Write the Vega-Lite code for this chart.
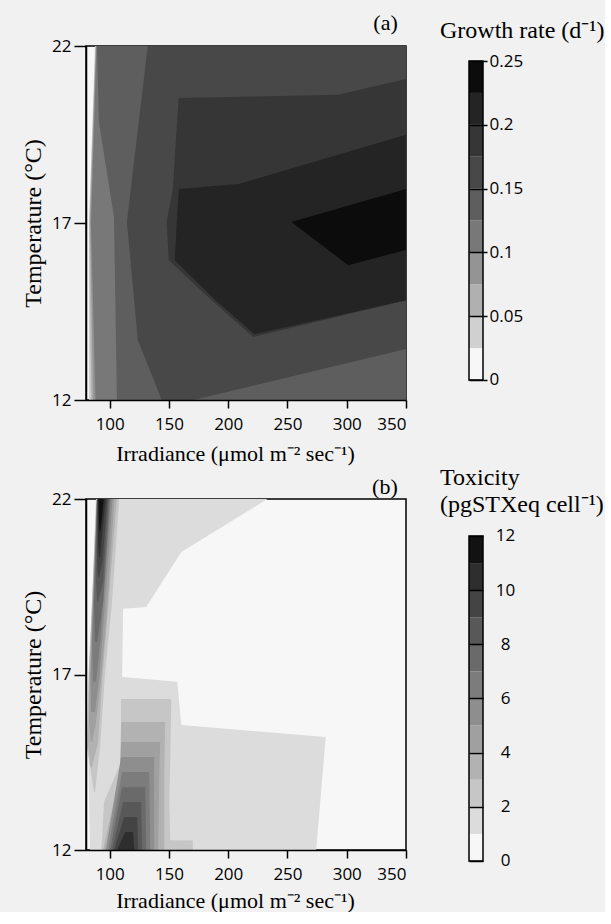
{
  "$schema": "https://vega.github.io/schema/vega-lite/v6.json",
  "background": "#f1f1f1",
  "padding": {"left": 20, "top": 11, "right": 0, "bottom": 0},
  "config": {
    "view": {"stroke": null},
    "axis": {"labelColor": "black", "tickColor": "black", "domainColor": "black", "titleColor": "black", "grid": false},
    "title": {"fontWeight": "normal", "color": "black", "font": "Liberation Serif"}
  },
  "datasets": {
    "contourA": [
      {"band": 1, "piece": "m", "T": 22, "xl": 87.6, "xr": 350},
      {"band": 1, "piece": "m", "T": 17, "xl": 82.5, "xr": 350},
      {"band": 1, "piece": "m", "T": 12, "xl": 82.5, "xr": 350},
      {"band": 2, "piece": "m", "T": 22, "xl": 88.0, "xr": 350},
      {"band": 2, "piece": "m", "T": 17, "xl": 82.9, "xr": 350},
      {"band": 2, "piece": "m", "T": 14.8, "xl": 83.4, "xr": 350},
      {"band": 2, "piece": "m", "T": 12, "xl": 84.2, "xr": 350},
      {"band": 3, "piece": "m", "T": 22, "xl": 88.4, "xr": 350},
      {"band": 3, "piece": "m", "T": 17, "xl": 83.4, "xr": 350},
      {"band": 3, "piece": "m", "T": 14.8, "xl": 84.6, "xr": 350},
      {"band": 3, "piece": "m", "T": 12, "xl": 85.9, "xr": 350},
      {"band": 4, "piece": "m", "T": 22, "xl": 88.8, "xr": 350},
      {"band": 4, "piece": "m", "T": 17, "xl": 84.2, "xr": 350},
      {"band": 4, "piece": "m", "T": 14.8, "xl": 85.9, "xr": 350},
      {"band": 4, "piece": "m", "T": 12, "xl": 88.0, "xr": 350},
      {"band": 5, "piece": "m", "T": 22, "xl": 89.3, "xr": 350},
      {"band": 5, "piece": "m", "T": 19.85, "xl": 90.9, "xr": 350},
      {"band": 5, "piece": "m", "T": 17.17, "xl": 103.6, "xr": 350},
      {"band": 5, "piece": "m", "T": 12, "xl": 106.1, "xr": 350},
      {"band": 6, "piece": "m", "T": 22, "xl": 132.1, "xr": 350},
      {"band": 6, "piece": "m", "T": 17.03, "xl": 114.5, "xr": 350},
      {"band": 6, "piece": "m", "T": 13.69, "xl": 123.7, "xr": 350},
      {"band": 6, "piece": "m", "T": 13.44, "xl": 126.8, "xr": 350},
      {"band": 6, "piece": "m", "T": 12, "xl": 143.9, "xr": 170.8},
      {"band": 7, "piece": "m", "T": 21.07, "xl": 350, "xr": 350},
      {"band": 7, "piece": "m", "T": 20.62, "xl": 292.8, "xr": 350},
      {"band": 7, "piece": "m", "T": 20.53, "xl": 158.2, "xr": 350},
      {"band": 7, "piece": "m", "T": 17.96, "xl": 153.2, "xr": 350},
      {"band": 7, "piece": "m", "T": 17.03, "xl": 148.1, "xr": 350},
      {"band": 7, "piece": "m", "T": 15.95, "xl": 149.8, "xr": 350},
      {"band": 7, "piece": "m", "T": 14.82, "xl": 186.0, "xr": 350},
      {"band": 7, "piece": "m", "T": 13.78, "xl": 221.3, "xr": 221.3},
      {"band": 8, "piece": "m", "T": 19.49, "xl": 350, "xr": 350},
      {"band": 8, "piece": "m", "T": 18.10, "xl": 208.7, "xr": 350},
      {"band": 8, "piece": "m", "T": 17.96, "xl": 158.2, "xr": 350},
      {"band": 8, "piece": "m", "T": 15.95, "xl": 154.9, "xr": 350},
      {"band": 8, "piece": "m", "T": 14.82, "xl": 189.3, "xr": 350},
      {"band": 8, "piece": "m", "T": 13.86, "xl": 222.1, "xr": 222.1},
      {"band": 9, "piece": "m", "T": 17.96, "xl": 350, "xr": 350},
      {"band": 9, "piece": "m", "T": 17.03, "xl": 253.3, "xr": 350},
      {"band": 9, "piece": "m", "T": 16.24, "xl": 284.4, "xr": 350},
      {"band": 9, "piece": "m", "T": 15.81, "xl": 301.2, "xr": 301.2}
    ],
    "contourB": [
      {"band": 1, "piece": "m", "T": 22, "xl": 89.31, "xr": 233.2},
      {"band": 1, "piece": "m", "T": 20.49, "xl": 87.62, "xr": 160.41},
      {"band": 1, "piece": "m", "T": 18.92, "xl": 85.92, "xr": 130.78},
      {"band": 1, "piece": "m", "T": 18.87, "xl": 85.92, "xr": 111.32},
      {"band": 1, "piece": "m", "T": 16.93, "xl": 82.54, "xr": 110.47},
      {"band": 1, "piece": "m", "T": 16.79, "xl": 82.54, "xr": 157.02},
      {"band": 1, "piece": "m", "T": 15.56, "xl": 81.69, "xr": 160.41},
      {"band": 1, "piece": "m", "T": 15.22, "xl": 81.69, "xr": 282.28},
      {"band": 1, "piece": "m", "T": 12, "xl": 83.39, "xr": 274.24},
      {"band": 2, "piece": "s", "T": 22, "xl": 88.46, "xr": 108.0},
      {"band": 2, "piece": "s", "T": 19.07, "xl": 85.08, "xr": 102.0},
      {"band": 2, "piece": "s", "T": 16.99, "xl": 82.12, "xr": 96.0},
      {"band": 2, "piece": "s", "T": 14.93, "xl": 80.85, "xr": 91.85},
      {"band": 2, "piece": "s", "T": 13.65, "xl": 86.77, "xr": 87.62},
      {"band": 2, "piece": "w", "T": 16.3, "xl": 109.62, "xr": 151.94},
      {"band": 2, "piece": "w", "T": 14.51, "xl": 109.62, "xr": 151.1},
      {"band": 2, "piece": "w", "T": 13.37, "xl": 95.23, "xr": 150.25},
      {"band": 2, "piece": "w", "T": 12.28, "xl": 93.54, "xr": 151.1},
      {"band": 2, "piece": "w", "T": 12.27, "xl": 93.54, "xr": 170.14},
      {"band": 2, "piece": "w", "T": 12, "xl": 92.7, "xr": 170.14},
      {"band": 3, "piece": "s", "T": 22, "xl": 88.89, "xr": 106.0},
      {"band": 3, "piece": "s", "T": 16.99, "xl": 82.54, "xr": 94.0},
      {"band": 3, "piece": "s", "T": 15.08, "xl": 81.69, "xr": 90.16},
      {"band": 3, "piece": "s", "T": 14.36, "xl": 83.81, "xr": 85.08},
      {"band": 3, "piece": "w", "T": 15.65, "xl": 109.62, "xr": 146.86},
      {"band": 3, "piece": "w", "T": 14.22, "xl": 108.78, "xr": 146.02},
      {"band": 3, "piece": "w", "T": 12, "xl": 94.39, "xr": 146.02},
      {"band": 4, "piece": "s", "T": 22, "xl": 89.31, "xr": 104.0},
      {"band": 4, "piece": "s", "T": 18.5, "xl": 85.08, "xr": 97.0},
      {"band": 4, "piece": "s", "T": 16.99, "xl": 83.39, "xr": 93.0},
      {"band": 4, "piece": "s", "T": 15.65, "xl": 82.54, "xr": 88.46},
      {"band": 4, "piece": "s", "T": 15.08, "xl": 84.23, "xr": 85.08},
      {"band": 4, "piece": "w", "T": 15.08, "xl": 109.62, "xr": 142.63},
      {"band": 4, "piece": "w", "T": 14.08, "xl": 108.78, "xr": 141.79},
      {"band": 4, "piece": "w", "T": 12, "xl": 96.08, "xr": 140.94},
      {"band": 5, "piece": "s", "T": 22, "xl": 89.31, "xr": 102.5},
      {"band": 5, "piece": "s", "T": 16.99, "xl": 83.81, "xr": 91.5},
      {"band": 5, "piece": "s", "T": 15.93, "xl": 84.23, "xr": 87.62},
      {"band": 5, "piece": "w", "T": 14.65, "xl": 109.62, "xr": 137.55},
      {"band": 5, "piece": "w", "T": 12, "xl": 96.93, "xr": 137.55},
      {"band": 6, "piece": "s", "T": 22, "xl": 89.31, "xr": 101.0},
      {"band": 6, "piece": "s", "T": 17.93, "xl": 85.08, "xr": 92.0},
      {"band": 6, "piece": "s", "T": 16.79, "xl": 85.92, "xr": 88.46},
      {"band": 6, "piece": "w", "T": 14.22, "xl": 110.47, "xr": 133.32},
      {"band": 6, "piece": "w", "T": 12, "xl": 98.62, "xr": 134.17},
      {"band": 7, "piece": "s", "T": 22, "xl": 89.31, "xr": 100.0},
      {"band": 7, "piece": "s", "T": 19.07, "xl": 86.77, "xr": 94.5},
      {"band": 7, "piece": "s", "T": 17.93, "xl": 87.62, "xr": 89.31},
      {"band": 7, "piece": "w", "T": 13.79, "xl": 110.47, "xr": 129.94},
      {"band": 7, "piece": "w", "T": 12, "xl": 100.31, "xr": 130.78},
      {"band": 8, "piece": "s", "T": 22, "xl": 89.31, "xr": 99.0},
      {"band": 8, "piece": "s", "T": 19.64, "xl": 88.46, "xr": 94.5},
      {"band": 8, "piece": "s", "T": 19.07, "xl": 89.31, "xr": 90.16},
      {"band": 8, "piece": "w", "T": 13.37, "xl": 111.32, "xr": 126.55},
      {"band": 8, "piece": "w", "T": 12, "xl": 102.0, "xr": 127.4},
      {"band": 9, "piece": "s", "T": 22, "xl": 89.73, "xr": 98.0},
      {"band": 9, "piece": "s", "T": 20.21, "xl": 89.31, "xr": 94.0},
      {"band": 9, "piece": "s", "T": 19.78, "xl": 90.16, "xr": 91.0},
      {"band": 9, "piece": "w", "T": 12.94, "xl": 112.16, "xr": 123.17},
      {"band": 9, "piece": "w", "T": 12, "xl": 103.7, "xr": 124.01},
      {"band": 10, "piece": "s", "T": 22, "xl": 90.16, "xr": 96.5},
      {"band": 10, "piece": "s", "T": 20.77, "xl": 90.16, "xr": 93.0},
      {"band": 10, "piece": "s", "T": 20.35, "xl": 91.0, "xr": 91.85},
      {"band": 10, "piece": "w", "T": 12.51, "xl": 113.01, "xr": 119.78},
      {"band": 10, "piece": "w", "T": 12, "xl": 106.24, "xr": 120.63},
      {"band": 11, "piece": "s", "T": 22, "xl": 90.58, "xr": 95.0},
      {"band": 11, "piece": "s", "T": 21.34, "xl": 91.0, "xr": 93.0},
      {"band": 11, "piece": "s", "T": 21.06, "xl": 91.43, "xr": 91.85}
    ],
    "cbA": [
      {"band": 0, "lo": 0, "hi": 0.025},
      {"band": 1, "lo": 0.025, "hi": 0.05},
      {"band": 2, "lo": 0.05, "hi": 0.075},
      {"band": 3, "lo": 0.075, "hi": 0.1},
      {"band": 4, "lo": 0.1, "hi": 0.125},
      {"band": 5, "lo": 0.125, "hi": 0.15},
      {"band": 6, "lo": 0.15, "hi": 0.175},
      {"band": 7, "lo": 0.175, "hi": 0.2},
      {"band": 8, "lo": 0.2, "hi": 0.225},
      {"band": 9, "lo": 0.225, "hi": 0.25}
    ],
    "cbB": [
      {"band": 0, "lo": 0, "hi": 1},
      {"band": 1, "lo": 1, "hi": 2},
      {"band": 2, "lo": 2, "hi": 3},
      {"band": 3, "lo": 3, "hi": 4},
      {"band": 4, "lo": 4, "hi": 5},
      {"band": 5, "lo": 5, "hi": 6},
      {"band": 6, "lo": 6, "hi": 7},
      {"band": 7, "lo": 7, "hi": 8},
      {"band": 8, "lo": 8, "hi": 9},
      {"band": 9, "lo": 9, "hi": 10},
      {"band": 10, "lo": 10, "hi": 11},
      {"band": 11, "lo": 11, "hi": 12}
    ]
  },
  "columns": 2,
  "spacing": {"row": 99, "column": 63},
  "bounds": "flush",
  "resolve": {"scale": {"x": "independent", "y": "independent", "color": "independent"}},
  "concat": [
    {
      "width": 320,
      "height": 354,
      "view": {"fill": "#f7f7f7", "stroke": "black", "strokeWidth": 1.5},
      "title": {"text": "(a)", "anchor": "end", "fontSize": 22, "dx": -9, "offset": -15, "baseline": "alphabetic"},
      "data": {"name": "contourA"},
      "encoding": {
        "y": {"field": "T", "type": "quantitative", "scale": {"domain": [12, 22], "nice": false, "zero": false},
          "axis": {"values": [12, 17, 22], "tickSize": 12, "tickWidth": 1.5, "labelPadding": 3, "labelFont": "Open Sans", "labelFontSize": 17, "domainWidth": 1.5, "title": "Temperature (°C)", "titleFont": "Liberation Serif", "titleFontSize": 24, "titleFontWeight": "normal", "titlePadding": 6, "zindex": 1}},
        "x": {"field": "xl", "type": "quantitative", "stack": null, "scale": {"domain": [80, 350], "nice": false, "zero": false},
          "axis": {"values": [100, 150, 200, 250, 300, 350], "tickSize": 8, "tickWidth": 1.5, "labelPadding": 8, "labelFont": "Open Sans", "labelFontSize": 17, "domainWidth": 1.5, "title": "Irradiance (μmol m⁻² sec⁻¹)", "titleFont": "Liberation Serif", "titleFontSize": 22, "titleFontWeight": "normal", "titlePadding": 11, "titleX": 149, "zindex": 1}},
        "x2": {"field": "xr"},
        "detail": {"field": "piece"},
        "color": {"field": "band", "type": "ordinal", "legend": null,
          "scale": {"domain": [0, 1, 2, 3, 4, 5, 6, 7, 8, 9], "range": ["#f7f7f7", "#d0d0d0", "#b0b0b0", "#949494", "#787878", "#5e5e5e", "#484848", "#363636", "#242424", "#0c0c0c"]}}
      },
      "layer": [
        {"transform": [{"filter": "datum.band == 1"}], "mark": {"type": "area", "orient": "horizontal"}},
        {"transform": [{"filter": "datum.band == 2"}], "mark": {"type": "area", "orient": "horizontal"}},
        {"transform": [{"filter": "datum.band == 3"}], "mark": {"type": "area", "orient": "horizontal"}},
        {"transform": [{"filter": "datum.band == 4"}], "mark": {"type": "area", "orient": "horizontal"}},
        {"transform": [{"filter": "datum.band == 5"}], "mark": {"type": "area", "orient": "horizontal"}},
        {"transform": [{"filter": "datum.band == 6"}], "mark": {"type": "area", "orient": "horizontal"}},
        {"transform": [{"filter": "datum.band == 7"}], "mark": {"type": "area", "orient": "horizontal"}},
        {"transform": [{"filter": "datum.band == 8"}], "mark": {"type": "area", "orient": "horizontal"}},
        {"transform": [{"filter": "datum.band == 9"}], "mark": {"type": "area", "orient": "horizontal"}}
      ]
    },
    {
      "width": 14,
      "height": 354,
      "view": {"stroke": null},
      "title": {"text": "Growth rate (d⁻¹)", "anchor": "start", "frame": "group", "dx": -29, "offset": -16, "baseline": "alphabetic", "fontSize": 24},
      "layer": [
        {
          "data": {"name": "cbA"},
          "mark": {"type": "rect"},
          "encoding": {
            "x": {"datum": 0, "type": "quantitative", "scale": {"domain": [0, 1], "nice": false}, "axis": null},
            "x2": {"datum": 1},
            "y": {"field": "lo", "type": "quantitative", "scale": {"domain": [-0.0157, 0.2618], "nice": false, "zero": false},
              "axis": {"orient": "right", "values": [0, 0.05, 0.1, 0.15, 0.2, 0.25], "format": ".2~f", "domain": false, "tickSize": 4, "tickWidth": 1.5, "labelPadding": 2, "labelFont": "Open Sans", "labelFontSize": 17, "grid": true, "gridColor": "black", "gridWidth": 1.5, "gridOpacity": 1, "title": null, "zindex": 1}},
            "y2": {"field": "hi"},
            "color": {"field": "band", "type": "ordinal", "legend": null,
              "scale": {"domain": [0, 1, 2, 3, 4, 5, 6, 7, 8, 9], "range": ["#f7f7f7", "#d0d0d0", "#b0b0b0", "#949494", "#787878", "#5e5e5e", "#484848", "#363636", "#242424", "#0c0c0c"]}}
          }
        },
        {
          "data": {"values": [{}]},
          "mark": {"type": "rect", "fillOpacity": 0, "stroke": "black", "strokeWidth": 1.5},
          "encoding": {
            "x": {"datum": 0, "type": "quantitative", "axis": null},
            "x2": {"datum": 1},
            "y": {"datum": 0, "type": "quantitative"},
            "y2": {"datum": 0.25}
          }
        }
      ]
    },
    {
      "width": 320,
      "height": 351,
      "view": {"fill": "#f7f7f7", "stroke": "black", "strokeWidth": 1.5},
      "title": {"text": "(b)", "anchor": "end", "fontSize": 22, "dx": -9, "offset": -26, "baseline": "alphabetic"},
      "data": {"name": "contourB"},
      "encoding": {
        "y": {"field": "T", "type": "quantitative", "scale": {"domain": [12, 22], "nice": false, "zero": false},
          "axis": {"values": [12, 17, 22], "tickSize": 12, "tickWidth": 1.5, "labelPadding": 3, "labelFont": "Open Sans", "labelFontSize": 17, "domainWidth": 1.5, "title": "Temperature (°C)", "titleFont": "Liberation Serif", "titleFontSize": 24, "titleFontWeight": "normal", "titlePadding": 6, "zindex": 1}},
        "x": {"field": "xl", "type": "quantitative", "stack": null, "scale": {"domain": [80, 350], "nice": false, "zero": false},
          "axis": {"values": [100, 150, 200, 250, 300, 350], "tickSize": 8, "tickWidth": 1.5, "labelPadding": 8, "labelFont": "Open Sans", "labelFontSize": 17, "domainWidth": 1.5, "title": "Irradiance (μmol m⁻² sec⁻¹)", "titleFont": "Liberation Serif", "titleFontSize": 22, "titleFontWeight": "normal", "titlePadding": 8, "titleX": 149, "zindex": 1}},
        "x2": {"field": "xr"},
        "detail": {"field": "piece"},
        "color": {"field": "band", "type": "ordinal", "legend": null,
          "scale": {"domain": [0, 1, 2, 3, 4, 5, 6, 7, 8, 9, 10, 11], "range": ["#f7f7f7", "#dcdcdc", "#c6c6c6", "#b2b2b2", "#a0a0a0", "#8e8e8e", "#7c7c7c", "#6a6a6a", "#585858", "#444444", "#2e2e2e", "#121212"]}}
      },
      "layer": [
        {"transform": [{"filter": "datum.band == 1"}], "mark": {"type": "area", "orient": "horizontal"}},
        {"transform": [{"filter": "datum.band == 2"}], "mark": {"type": "area", "orient": "horizontal"}},
        {"transform": [{"filter": "datum.band == 3"}], "mark": {"type": "area", "orient": "horizontal"}},
        {"transform": [{"filter": "datum.band == 4"}], "mark": {"type": "area", "orient": "horizontal"}},
        {"transform": [{"filter": "datum.band == 5"}], "mark": {"type": "area", "orient": "horizontal"}},
        {"transform": [{"filter": "datum.band == 6"}], "mark": {"type": "area", "orient": "horizontal"}},
        {"transform": [{"filter": "datum.band == 7"}], "mark": {"type": "area", "orient": "horizontal"}},
        {"transform": [{"filter": "datum.band == 8"}], "mark": {"type": "area", "orient": "horizontal"}},
        {"transform": [{"filter": "datum.band == 9"}], "mark": {"type": "area", "orient": "horizontal"}},
        {"transform": [{"filter": "datum.band == 10"}], "mark": {"type": "area", "orient": "horizontal"}},
        {"transform": [{"filter": "datum.band == 11"}], "mark": {"type": "area", "orient": "horizontal"}}
      ]
    },
    {
      "width": 14,
      "height": 365,
      "view": {"stroke": null},
      "title": {"text": ["Toxicity", "(pgSTXeq cell⁻¹)"], "anchor": "start", "frame": "group", "dx": -29, "offset": -37, "baseline": "alphabetic", "fontSize": 24, "lineHeight": 27},
      "layer": [
        {
          "data": {"name": "cbB"},
          "mark": {"type": "rect"},
          "encoding": {
            "x": {"datum": 0, "type": "quantitative", "scale": {"domain": [0, 1], "nice": false}, "axis": null},
            "x2": {"datum": 1},
            "y": {"field": "lo", "type": "quantitative", "scale": {"domain": [-0.111, 13.366], "nice": false, "zero": false},
              "axis": {"orient": "right", "values": [0, 2, 4, 6, 8, 10, 12], "domain": false, "ticks": false, "labelPadding": 22, "labelAlign": "center", "labelFont": "Open Sans", "labelFontSize": 17, "grid": true, "gridColor": "black", "gridWidth": 1.5, "gridOpacity": 1, "title": null, "zindex": 1}},
            "y2": {"field": "hi"},
            "color": {"field": "band", "type": "ordinal", "legend": null,
              "scale": {"domain": [0, 1, 2, 3, 4, 5, 6, 7, 8, 9, 10, 11], "range": ["#f7f7f7", "#dcdcdc", "#c6c6c6", "#b2b2b2", "#a0a0a0", "#8e8e8e", "#7c7c7c", "#6a6a6a", "#585858", "#444444", "#2e2e2e", "#121212"]}}
          }
        },
        {
          "data": {"values": [{}]},
          "mark": {"type": "rect", "fillOpacity": 0, "stroke": "black", "strokeWidth": 1.5},
          "encoding": {
            "x": {"datum": 0, "type": "quantitative", "axis": null},
            "x2": {"datum": 1},
            "y": {"datum": 0, "type": "quantitative"},
            "y2": {"datum": 12}
          }
        }
      ]
    }
  ]
}
